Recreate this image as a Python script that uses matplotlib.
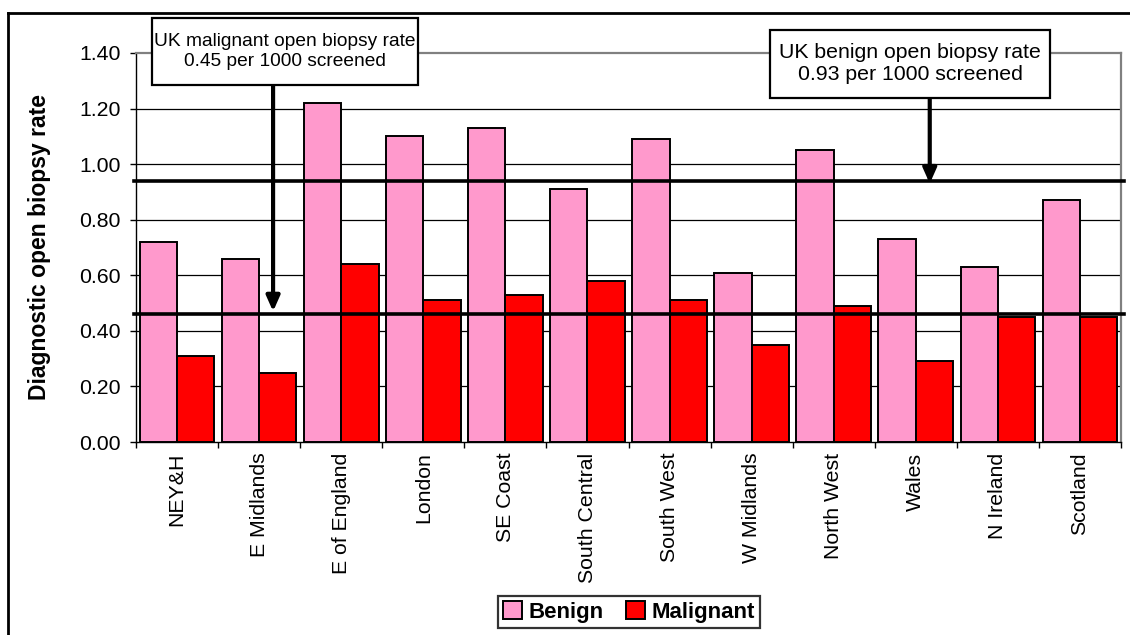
import matplotlib
matplotlib.use("Agg")
import matplotlib.pyplot as plt
from matplotlib.patches import Rectangle
from matplotlib.lines import Line2D
import numpy as np

plt.rcParams['font.family'] = ['Liberation Sans', 'DejaVu Sans']

regions = ["NEY&H", "E Midlands", "E of England", "London", "SE Coast", "South Central",
           "South West", "W Midlands", "North West", "Wales", "N Ireland", "Scotland"]
benign = [0.72, 0.66, 1.22, 1.10, 1.13, 0.91, 1.09, 0.61, 1.05, 0.73, 0.63, 0.87]
malignant = [0.31, 0.25, 0.64, 0.51, 0.53, 0.58, 0.51, 0.35, 0.49, 0.29, 0.45, 0.45]
uk_benign = 0.94
uk_malignant = 0.46
yticks = [0.0, 0.2, 0.4, 0.6, 0.8, 1.0, 1.2, 1.4]

W, H = 1130, 635
fig = plt.figure(figsize=(W / 100, H / 100), dpi=100)
ax = fig.add_axes([136 / W, 1 - 442 / H, 985 / W, 389 / H])

x = np.arange(len(regions))
w = 0.455
ax.bar(x - w / 2, benign, w, color="#FF99CC", edgecolor="black", linewidth=1.4, zorder=3, label="Benign")
ax.bar(x + w / 2, malignant, w, color="#FF0000", edgecolor="black", linewidth=1.4, zorder=3, label="Malignant")

# UK reference lines
ax.plot([-0.52, 11.54], [uk_benign, uk_benign], color="black", lw=2.6, zorder=4, clip_on=False)
ax.plot([-0.52, 11.54], [uk_malignant, uk_malignant], color="black", lw=2.6, zorder=4, clip_on=False)

ax.set_xlim(-0.5, 11.5)
ax.set_ylim(0, 1.4)
ax.set_yticks(yticks)
ax.set_yticklabels(["%.2f" % v for v in yticks])
for v in yticks[1:-1]:
    ax.axhline(v, color="black", lw=0.9, zorder=1)

ax.set_xticks(x)
ax.set_xticklabels(regions, rotation=90, va="top", ha="center")
ax.set_xticks(np.arange(-0.5, 12, 1), minor=True)
ax.tick_params(axis="x", which="major", length=0, pad=7.5, labelsize=15.3)
ax.tick_params(axis="x", which="minor", length=4, width=1, direction="out")
ax.tick_params(axis="y", length=4, width=1, direction="out", pad=7, labelsize=15.3)

ax.spines["left"].set_color("black")
ax.spines["left"].set_linewidth(1)
ax.spines["bottom"].set_color("black")
ax.spines["bottom"].set_linewidth(1)
ax.spines["top"].set_color("#808080")
ax.spines["top"].set_linewidth(1.6)
ax.spines["right"].set_color("#808080")
ax.spines["right"].set_linewidth(1.6)

fig.text(40 / W, 1 - 247 / H, "Diagnostic open biopsy rate", rotation=90, ha="center", va="center",
         fontsize=16.5, fontweight="bold")

# annotation boxes (figure pixel coords)
def note_box(x0, y0, x1, y1, txt, size):
    fig.patches.append(Rectangle((x0 / W, 1 - y1 / H), (x1 - x0) / W, (y1 - y0) / H,
                                 transform=fig.transFigure, facecolor="white", edgecolor="black",
                                 lw=1.6, zorder=5))
    fig.text((x0 + x1) / 2 / W, 1 - (y0 + y1) / 2 / H, txt, ha="center", va="center",
             fontsize=size, linespacing=1.2, zorder=6)

note_box(152, 18, 418, 85, "UK malignant open biopsy rate\n0.45 per 1000 screened", 13.8)
note_box(770, 30, 1050, 98, "UK benign open biopsy rate\n0.93 per 1000 screened", 15.3)

ax.annotate("", xy=(1.17, 0.47), xytext=(1.17, 1.285),
            arrowprops=dict(arrowstyle="-|>,head_length=0.9,head_width=0.4", color="black", lw=3,
                            shrinkA=0, shrinkB=0), annotation_clip=False, zorder=6)
ax.annotate("", xy=(9.17, 0.93), xytext=(9.17, 1.24),
            arrowprops=dict(arrowstyle="-|>,head_length=0.9,head_width=0.4", color="black", lw=3,
                            shrinkA=0, shrinkB=0), annotation_clip=False, zorder=6)

leg = fig.legend(loc="center", bbox_to_anchor=(629 / W, 1 - 612 / H), ncol=2, frameon=True,
                 fancybox=False, edgecolor="black", handlelength=0.85, handleheight=0.85,
                 handletextpad=0.3, columnspacing=1.0, borderpad=0.25,
                 prop={"weight": "bold", "size": 16})
leg.get_frame().set_linewidth(1.6)

# outer chart border
fig.add_artist(Line2D([8 / W, 8 / W], [0, 1 - 13 / H], color="black", lw=2, transform=fig.transFigure))
fig.add_artist(Line2D([8 / W, 1], [1 - 13 / H, 1 - 13 / H], color="black", lw=2, transform=fig.transFigure))

fig.savefig("out.png", dpi=100)
